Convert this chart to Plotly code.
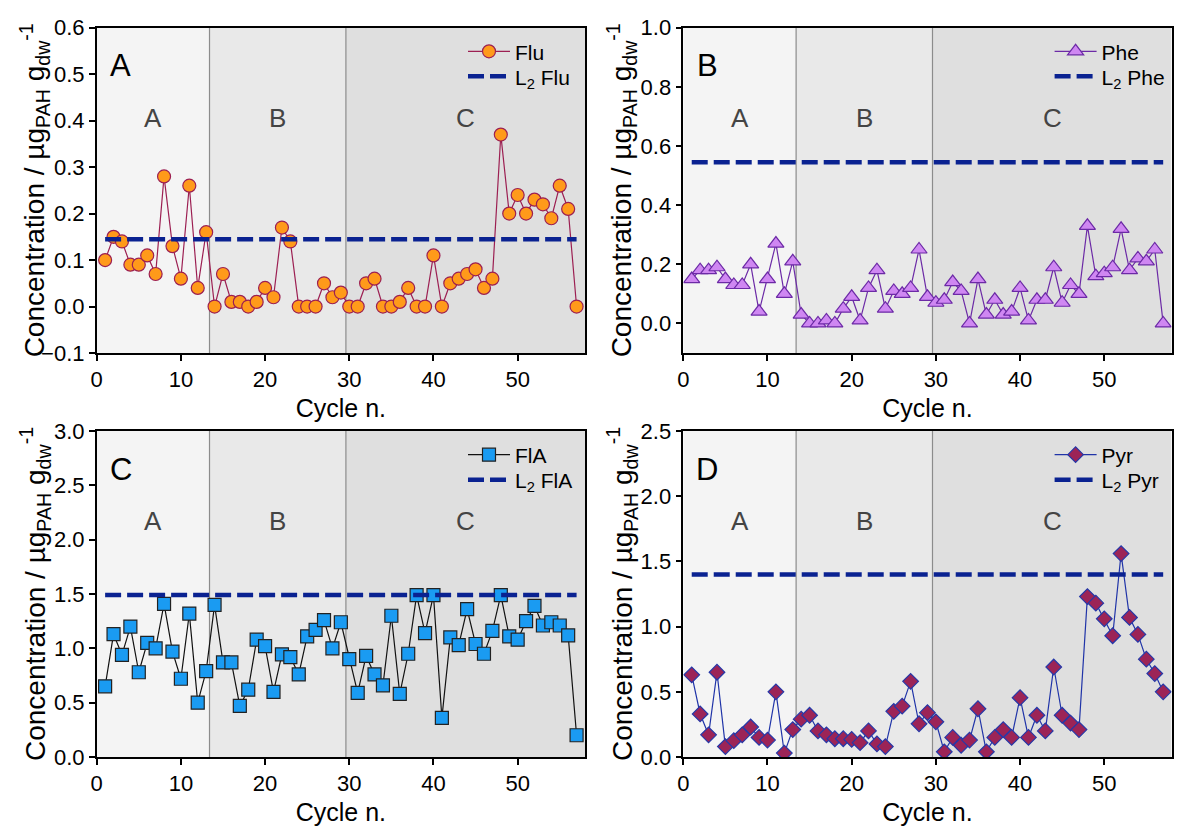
import plotly.graph_objects as go

cycles = list(range(1, 58))

flu = [0.10, 0.15, 0.14, 0.09, 0.09, 0.11, 0.07, 0.28, 0.13, 0.06,
       0.26, 0.04, 0.16, 0.00, 0.07, 0.01, 0.01, 0.00, 0.01, 0.04,
       0.02, 0.17, 0.14, 0.00, 0.00, 0.00, 0.05, 0.02, 0.03, 0.00,
       0.00, 0.05, 0.06, 0.00, 0.00, 0.01, 0.04, 0.00, 0.00, 0.11,
       0.00, 0.05, 0.06, 0.07, 0.08, 0.04, 0.06, 0.37, 0.20, 0.24,
       0.20, 0.23, 0.22, 0.19, 0.26, 0.21, 0.00]
phe = [0.15, 0.18, 0.18, 0.19, 0.15, 0.13, 0.13, 0.20, 0.04, 0.15,
       0.27, 0.10, 0.21, 0.03, 0.00, 0.00, 0.01, 0.00, 0.05, 0.09,
       0.01, 0.12, 0.18, 0.05, 0.11, 0.10, 0.12, 0.25, 0.09, 0.07,
       0.08, 0.14, 0.11, 0.00, 0.15, 0.03, 0.08, 0.03, 0.04, 0.12,
       0.01, 0.08, 0.08, 0.19, 0.07, 0.13, 0.10, 0.33, 0.16, 0.17,
       0.19, 0.32, 0.18, 0.22, 0.21, 0.25, 0.00]
fla = [0.65, 1.13, 0.94, 1.20, 0.78, 1.05, 1.00, 1.41, 0.97, 0.72,
       1.32, 0.50, 0.79, 1.40, 0.87, 0.87, 0.47, 0.62, 1.08, 1.02,
       0.60, 0.945, 0.92, 0.76, 1.11, 1.17, 1.26, 1.00, 1.24, 0.90,
       0.59, 0.93, 0.76, 0.66, 1.30, 0.58, 0.95, 1.49, 1.14, 1.49,
       0.36, 1.10, 1.03, 1.36, 1.04, 0.95, 1.16, 1.49, 1.11, 1.08,
       1.25, 1.39, 1.21, 1.24, 1.21, 1.12, 0.20]
pyr = [0.63, 0.33, 0.17, 0.65, 0.08, 0.125, 0.17, 0.23, 0.15, 0.13,
       0.50, 0.03, 0.21, 0.29, 0.32, 0.20, 0.17, 0.14, 0.14, 0.135,
       0.11, 0.20, 0.10, 0.08, 0.35, 0.39, 0.58, 0.255, 0.34, 0.27,
       0.04, 0.15, 0.09, 0.13, 0.37, 0.04, 0.15, 0.21, 0.15, 0.455,
       0.15, 0.32, 0.20, 0.69, 0.32, 0.26, 0.21, 1.23, 1.18, 1.06,
       0.93, 1.56, 1.07, 0.94, 0.75, 0.64, 0.50]

l2_values = {"Flu": 0.145, "Phe": 0.545, "FlA": 1.49, "Pyr": 1.40}
l2_x = [1, 57]

phase_bounds = [0, 13.4, 29.6, 58]
phase_labels = ["A", "B", "C"]
phase_label_x = [6.7, 21.5, 43.8]
panel_letters = ["A", "B", "C", "D"]

y_ranges = [[-0.1, 0.6], [-0.1, 1.0], [0.0, 3.0], [0.0, 2.5]]
y_dticks = [0.1, 0.2, 0.5, 0.5]
x_ticks = [0, 10, 20, 30, 40, 50]

y_title = "Concentration / µg<sub>PAH</sub> g<sub>dw</sub><sup>-1</sup>"
x_title = "Cycle n."

W, H = 1177, 831
FONT = "Liberation Sans, Arial, sans-serif"

# pixel frames of panels (left, right, top, bottom)
frames = [(96.7, 585.0, 27.7, 353.0), (683.3, 1171.6, 27.7, 353.0),
          (96.7, 585.0, 431.0, 757.0), (683.3, 1171.6, 431.0, 757.0)]
ytitle_x = [35, 622, 35, 622]

series = [
    dict(name="Flu", y=flu, symbol="circle", size=13, fill="#ff9a1a", edge="#9c1f52", line="#9c1f52"),
    dict(name="Phe", y=phe, symbol="triangle-up", size=14, fill="#cf87f2", edge="#6c2aa6", line="#6c2aa6"),
    dict(name="FlA", y=fla, symbol="square", size=13, fill="#1a9bf2", edge="#222222", line="#111111"),
    dict(name="Pyr", y=pyr, symbol="diamond", size=12, fill="#9c2457", edge="#2638a8", line="#2034a8"),
]

fig = go.Figure()
layout = dict(width=W, height=H, margin=dict(l=0, r=0, t=0, b=0),
              paper_bgcolor="white", plot_bgcolor="white",
              font=dict(family=FONT, color="black", size=22),
              showlegend=True, hovermode=False)
shapes = []
annotations = []
phase_fills = ["#f4f4f4", "#e9e9e9", "#dfdfdf"]

for i, s in enumerate(series):
    n = i + 1
    xa = "x" if n == 1 else f"x{n}"
    ya = "y" if n == 1 else f"y{n}"
    leg_a = "legend" if n == 1 else f"legend{2 * n - 1}"
    leg_b = f"legend{2 * n}"
    l, r, t, b = frames[i]
    fig.add_trace(go.Scatter(
        x=cycles, y=s["y"], mode="lines+markers", name=s["name"],
        xaxis=xa, yaxis=ya, legend=leg_a,
        line=dict(color=s["line"], width=1.2),
        marker=dict(symbol=s["symbol"], size=s["size"], color=s["fill"],
                    line=dict(color=s["edge"], width=1.2))))
    fig.add_trace(go.Scatter(
        x=l2_x, y=[l2_values[s["name"]]] * 2, mode="lines",
        name="L<sub>2</sub> " + s["name"], xaxis=xa, yaxis=ya, legend=leg_b,
        line=dict(color="#0a2291", width=4.5, dash="16px,6px")))

    axis_common = dict(showline=True, linecolor="black", linewidth=1.5, mirror=True,
                       ticks="outside", ticklen=6, tickwidth=1.5, tickcolor="black",
                       showgrid=False, zeroline=False, automargin=False,
                       tickfont=dict(size=22, family=FONT, color="black"))
    layout["xaxis" if n == 1 else f"xaxis{n}"] = dict(
        domain=[l / W, r / W], anchor=ya, range=[0, 58],
        tickvals=x_ticks, ticktext=[str(v) for v in x_ticks],
        title=dict(text=x_title, font=dict(size=25, family=FONT), standoff=8),
        **axis_common)
    lo, hi = y_ranges[i]
    layout["yaxis" if n == 1 else f"yaxis{n}"] = dict(
        domain=[1 - b / H, 1 - t / H], anchor=xa, range=[lo, hi],
        tick0=0, dtick=y_dticks[i], tickformat=".1f",
        **axis_common)

    annotations.append(dict(text=y_title, xref="paper", yref="paper",
                            x=ytitle_x[i] / W, y=1 - (t + b) / 2 / H, textangle=-90,
                            showarrow=False, xanchor="center", yanchor="middle",
                            font=dict(size=28, family=FONT, color="black")))

    for k in range(3):
        shapes.append(dict(type="rect", xref=xa, yref=f"{ya} domain",
                           x0=phase_bounds[k], x1=phase_bounds[k + 1], y0=0, y1=1,
                           fillcolor=phase_fills[k], line=dict(width=0), layer="below"))
    for bx in phase_bounds[1:3]:
        shapes.append(dict(type="line", xref=xa, yref=f"{ya} domain",
                           x0=bx, x1=bx, y0=0, y1=1,
                           line=dict(color="#8c8c8c", width=1.2), layer="below"))
    for k in range(3):
        annotations.append(dict(text=phase_labels[k], xref=xa, yref="paper",
                                x=phase_label_x[k], y=1 - (t + 90) / H, showarrow=False,
                                xanchor="center", yanchor="middle",
                                font=dict(size=26, family=FONT, color="#444444")))
    annotations.append(dict(text=panel_letters[i], xref="paper", yref="paper",
                            x=(l + 24) / W, y=1 - (t + 38) / H, showarrow=False,
                            xanchor="center", yanchor="middle",
                            font=dict(size=31, family=FONT, color="black")))
    for leg, dy in ((leg_a, 24), (leg_b, 49)):
        layout[leg] = dict(x=(r - 122) / W, y=1 - (t + dy) / H, xanchor="left", yanchor="middle",
                           xref="paper", yref="paper", bgcolor="rgba(0,0,0,0)",
                           font=dict(size=21, family=FONT), itemwidth=42,
                           tracegroupgap=0)

layout["shapes"] = shapes
layout["annotations"] = annotations
fig.update_layout(**layout)
fig.write_html("out.html")
